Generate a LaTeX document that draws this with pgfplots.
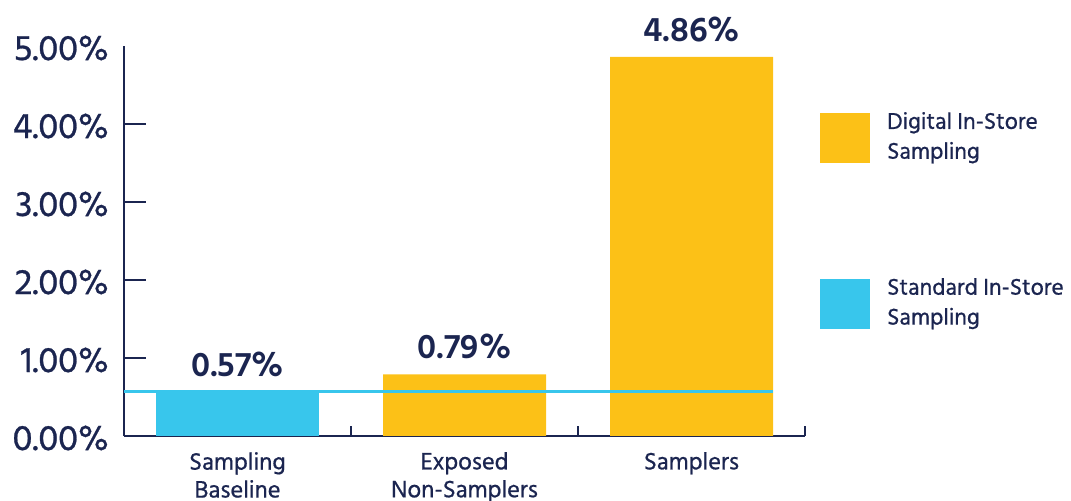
\documentclass[border=0pt]{standalone}
\usepackage{pgfplots}
\pgfplotsset{compat=1.18}
\usepackage{fontspec}
\setmainfont{Hind Siliguri}[UprightFeatures={FakeBold=0.7}]
\definecolor{navy}{HTML}{1B2550}
\definecolor{gold}{HTML}{FCC117}
\definecolor{sky}{HTML}{38C6EC}
\begin{document}
\begin{tikzpicture}
\path[use as bounding box] (0,0) rectangle (1071bp,501bp);
\begin{axis}[
  at={(124bp,65bp)}, anchor=south west, scale only axis,
  width=681bp, height=390bp,
  xmin=-0.5, xmax=2.5, ymin=0, ymax=5,
  axis x line*=bottom, axis y line*=left,
  axis line style={navy, line width=2.2bp},
  every tick/.style={navy, line width=2bp},
  tick align=inside,
  /pgf/number format/assume math mode=true,
  ytick={0,5},
  ytick style={draw=none},
  extra y ticks={1,2,3,4},
  extra y tick style={major tick length=22bp, ytick style={draw=navy}},
  yticklabel={\pgfmathprintnumber[fixed,fixed zerofill,precision=2]{\tick}\%},
  extra y tick labels={1.00\%,2.00\%,3.00\%,4.00\%},
  yticklabel style={font=\fontsize{36.5}{36.5}\selectfont, text=navy, inner sep=0pt, xshift=-15bp, yshift=-2bp},
  xtick={0,1,2},
  xticklabels={{Sampling\\Baseline},{Exposed\\Non-Samplers},{Samplers}},
  xtick style={draw=none},
  extra x ticks={0.5,1.5,2.5},
  extra x tick labels={},
  extra x tick style={major tick length=10bp, xtick style={draw=navy}},
  xticklabel style={align=center, font=\fontsize{24.5}{28}\selectfont, text=navy, inner sep=0pt, yshift=-16bp},
  legend cell align=left,
  legend style={at={(1.022,0.831)}, anchor=north west, draw=none, fill=none, inner sep=0pt,
    font=\fontsize{23.5}{30}\selectfont, text=navy, row sep=115bp,
    nodes={align=left, inner sep=0pt},
    /tikz/every odd column/.append style={column sep=17bp}},
  nodes near coords style={font=\fontsize{35}{35}\selectfont\bfseries, text=navy, inner sep=0pt, anchor=south, yshift=15bp},
]
\addplot[ybar, fill=gold, draw=none, bar width=163bp, bar shift=0pt,
  nodes near coords, point meta=explicit symbolic,
  legend image code/.code={\fill[gold] (0bp,-27bp) rectangle (50bp,23bp);}]
  coordinates {(1,0.79) [0.79\%] (2,4.86) [4.86\%]};
\addlegendentry{Digital In-Store\\Sampling}
\addplot[ybar, fill=sky, draw=none, bar width=163bp, bar shift=0pt,
  nodes near coords, point meta=explicit symbolic,
  legend image code/.code={\fill[sky] (0bp,-27bp) rectangle (50bp,23bp);}]
  coordinates {(0,0.57) [0.57\%]};
\addlegendentry{Standard In-Store\\Sampling}
\addplot[sky, line width=3bp, forget plot] coordinates {(-0.5,0.57) (2.36,0.57)};
\end{axis}
\end{tikzpicture}
\end{document}
